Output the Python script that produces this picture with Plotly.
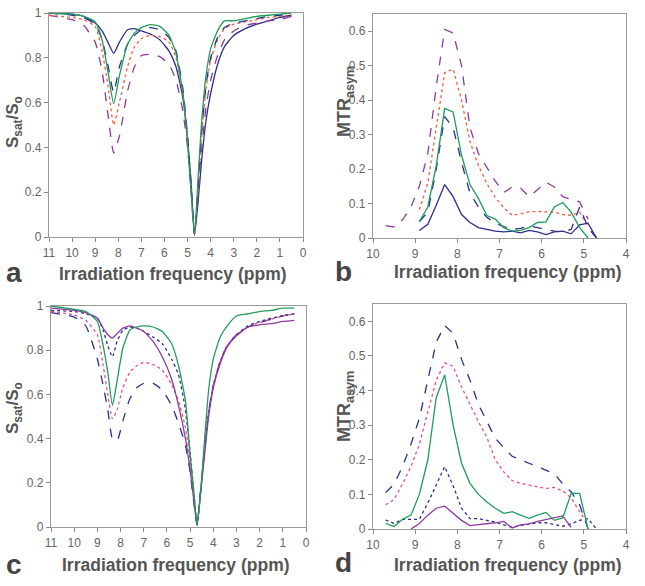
import plotly.graph_objects as go

# ---------- data ----------
# panel a : Z-spectra
ppm_a = [11, 10, 9.5, 9, 8.7, 8.45, 8.2, 7.95, 7.6, 7.3, 7.0, 6.6, 6.2, 5.8, 5.5, 5.2,
         5.0, 4.85, 4.7, 4.55, 4.4, 4.2, 4.0, 3.7, 3.4, 3.0, 2.5, 2.0, 1.5, 1.0, 0.5]
a_navy_solid = [1.0, 0.995, 0.985, 0.955, 0.92, 0.87, 0.82, 0.87, 0.925, 0.93, 0.92, 0.905, 0.88, 0.83, 0.76, 0.62,
                0.44, 0.25, 0.01, 0.15, 0.33, 0.52, 0.64, 0.77, 0.85, 0.9, 0.93, 0.95, 0.965, 0.98, 0.99]
a_green = [1.0, 0.995, 0.985, 0.96, 0.88, 0.74, 0.595, 0.72, 0.86, 0.91, 0.935, 0.948, 0.94, 0.9, 0.82, 0.64,
           0.42, 0.2, 0.01, 0.25, 0.5, 0.72, 0.84, 0.92, 0.965, 0.965, 0.975, 0.985, 0.99, 0.995, 1.0]
a_navy_dash = [1.0, 0.99, 0.98, 0.95, 0.88, 0.77, 0.645, 0.76, 0.86, 0.9, 0.925, 0.935, 0.925, 0.89, 0.83, 0.66,
               0.45, 0.23, 0.01, 0.22, 0.46, 0.68, 0.8, 0.89, 0.935, 0.955, 0.965, 0.975, 0.985, 0.99, 0.995]
a_orange_dot = [0.99, 0.98, 0.97, 0.94, 0.83, 0.68, 0.5, 0.6, 0.76, 0.85, 0.885, 0.9, 0.895, 0.87, 0.8, 0.64,
                0.44, 0.22, 0.01, 0.2, 0.44, 0.66, 0.79, 0.88, 0.93, 0.95, 0.96, 0.97, 0.98, 0.985, 0.99]
a_purple_dash = [0.99, 0.97, 0.945, 0.87, 0.74, 0.55, 0.375, 0.45, 0.65, 0.76, 0.81, 0.815, 0.805, 0.77, 0.7, 0.56,
                 0.4, 0.22, 0.01, 0.18, 0.38, 0.58, 0.7, 0.81, 0.88, 0.92, 0.945, 0.955, 0.965, 0.97, 0.985]

# panel b : MTRasym
ppm_b = [9.7, 9.5, 9.3, 9.1, 8.9, 8.7, 8.5, 8.3, 8.1, 7.9, 7.7, 7.5, 7.3, 7.1, 6.9, 6.7,
         6.5, 6.3, 6.1, 5.9, 5.7, 5.5, 5.3, 5.1, 4.9, 4.7]
b_purple_dash = [0.036, 0.032, 0.053, 0.09, 0.15, 0.245, 0.44, 0.605, 0.595, 0.5, 0.32, 0.245, 0.205, 0.165, 0.132, 0.148,
                 0.145, 0.12, 0.14, 0.162, 0.148, 0.12, 0.112, 0.105, 0.055, None]
b_orange_dot = [None, None, None, None, 0.082, 0.16, 0.32, 0.48, 0.49, 0.4, 0.28, 0.21, 0.158, 0.118, 0.088, 0.066,
                0.07, 0.076, 0.077, 0.077, 0.075, 0.068, 0.066, 0.075, 0.035, None]
b_green = [None, None, None, None, 0.048, 0.09, 0.21, 0.376, 0.366, 0.24, 0.155, 0.115, 0.065, 0.055, 0.03, 0.02,
           0.022, 0.03, 0.045, 0.047, 0.09, 0.103, 0.075, 0.03, 0.0, None]
b_navy_dash = [None, None, None, None, 0.048, 0.075, 0.2, 0.352, 0.32, 0.22, 0.13, 0.09, 0.06, 0.043, 0.033, 0.025,
               0.028, 0.035, 0.03, 0.025, 0.02, 0.018, 0.025, 0.09, 0.03, 0.0]
b_navy_solid = [None, None, None, None, 0.022, 0.04, 0.095, 0.155, 0.12, 0.068, 0.045, 0.03, 0.025, 0.02, 0.018, 0.02,
                0.015, 0.022, 0.018, 0.01, 0.018, 0.02, 0.012, 0.038, 0.043, 0.0]

# panel c : Z-spectra
ppm_c = [11, 10, 9.5, 9, 8.75, 8.55, 8.35, 8.15, 7.9, 7.6, 7.3, 7.0, 6.6, 6.2, 5.8, 5.5, 5.2,
         5.0, 4.85, 4.7, 4.55, 4.4, 4.2, 4.0, 3.7, 3.4, 3.0, 2.5, 2.0, 1.5, 1.0, 0.5]
c_green = [1.0, 0.985, 0.975, 0.93, 0.82, 0.7, 0.55, 0.66, 0.81, 0.89, 0.905, 0.91, 0.905, 0.885, 0.83, 0.73, 0.57,
           0.33, 0.17, 0.01, 0.15, 0.36, 0.62, 0.76, 0.86, 0.91, 0.955, 0.965, 0.975, 0.98, 0.99, 0.99]
c_purple = [0.99, 0.98, 0.97, 0.945, 0.9, 0.87, 0.855, 0.875, 0.9, 0.91, 0.9, 0.885, 0.84, 0.77, 0.67, 0.55, 0.4,
            0.26, 0.13, 0.01, 0.15, 0.3, 0.5, 0.63, 0.74, 0.815, 0.865, 0.905, 0.915, 0.92, 0.93, 0.935]
c_navy_dot = [0.98, 0.975, 0.965, 0.945, 0.89, 0.82, 0.77, 0.84, 0.89, 0.905, 0.9, 0.885, 0.86, 0.83, 0.76, 0.69, 0.53,
              0.34, 0.17, 0.01, 0.16, 0.32, 0.52, 0.64, 0.75, 0.82, 0.87, 0.91, 0.93, 0.945, 0.955, 0.965]
c_pink_dot = [0.975, 0.96, 0.935, 0.87, 0.73, 0.6, 0.49, 0.53, 0.63, 0.7, 0.73, 0.745, 0.735, 0.71, 0.645, 0.57, 0.45,
              0.3, 0.15, 0.01, 0.16, 0.33, 0.52, 0.64, 0.75, 0.82, 0.87, 0.905, 0.925, 0.94, 0.955, 0.965]
c_navy_dash = [0.97, 0.95, 0.91, 0.76, 0.64, 0.53, 0.40, 0.39, 0.48, 0.58, 0.63, 0.65, 0.65, 0.62, 0.55, 0.47, 0.37,
               0.25, 0.12, 0.01, 0.16, 0.33, 0.52, 0.64, 0.75, 0.82, 0.87, 0.905, 0.925, 0.94, 0.955, 0.965]

# panel d : MTRasym
ppm_d = ppm_b
d_navy_dash = [0.105, 0.13, 0.18, 0.245, 0.32, 0.43, 0.54, 0.588, 0.565, 0.49, 0.43, 0.36, 0.31, 0.262, 0.235, 0.21,
               0.2, 0.19, 0.18, 0.17, 0.16, 0.13, 0.107, 0.07, 0.0, None]
d_pink_dot = [0.07, 0.085, 0.13, 0.18, 0.245, 0.34, 0.43, 0.48, 0.47, 0.41, 0.36, 0.31, 0.265, 0.2, 0.165, 0.14,
              0.132, 0.128, 0.122, 0.117, 0.12, 0.11, 0.09, 0.05, 0.015, None]
d_green = [0.016, 0.007, 0.028, 0.04, 0.1, 0.2, 0.38, 0.445, 0.3, 0.19, 0.132, 0.1, 0.078, 0.06, 0.045, 0.05,
           0.04, 0.031, 0.04, 0.048, 0.025, 0.032, 0.103, 0.103, 0.0, None]
d_navy_dot = [0.026, 0.016, 0.028, 0.027, 0.028, 0.075, 0.13, 0.18, 0.125, 0.06, 0.03, 0.03, 0.025, 0.02, 0.012, 0.005,
              0.01, 0.015, 0.018, 0.018, 0.012, 0.008, 0.015, 0.025, 0.03, 0.0]
d_purple = [None, None, None, 0.0, 0.016, 0.04, 0.06, 0.066, 0.045, 0.025, 0.01, 0.012, 0.015, 0.018, 0.022, 0.003,
            0.012, 0.015, 0.022, 0.028, 0.032, 0.038, 0.005, None, None, None]

# ---------- styles ----------
NAVY = '#2e2e8e'
GREEN = '#1f9e5a'
PURPLE = '#8e3a9e'
ORANGE = '#f4603f'
PINK = '#e8508c'
FONT = 'Liberation Sans, Arial, sans-serif'

fig = go.Figure()


def add(x, y, color, dash, ax, shape='linear'):
    fig.add_trace(go.Scatter(
        x=x, y=y, mode='lines', xaxis='x' + ax, yaxis='y' + ax,
        line=dict(color=color, dash=dash, width=1.3, shape=shape, smoothing=0.5),
        showlegend=False, hoverinfo='skip'
    ))


add(ppm_a, a_navy_solid, NAVY, 'solid', '', 'spline')
add(ppm_a, a_purple_dash, PURPLE, 'dash', '', 'spline')
add(ppm_a, a_orange_dot, ORANGE, 'dot', '', 'spline')
add(ppm_a, a_navy_dash, NAVY, 'dash', '', 'spline')
add(ppm_a, a_green, GREEN, 'solid', '', 'spline')

add(ppm_b, b_purple_dash, PURPLE, 'dash', '2')
add(ppm_b, b_orange_dot, ORANGE, 'dot', '2')
add(ppm_b, b_navy_solid, NAVY, 'solid', '2')
add(ppm_b, b_navy_dash, NAVY, 'dash', '2')
add(ppm_b, b_green, GREEN, 'solid', '2')

add(ppm_c, c_navy_dash, NAVY, 'dash', '3', 'spline')
add(ppm_c, c_pink_dot, PINK, 'dot', '3', 'spline')
add(ppm_c, c_navy_dot, NAVY, 'dot', '3', 'spline')
add(ppm_c, c_purple, PURPLE, 'solid', '3', 'spline')
add(ppm_c, c_green, GREEN, 'solid', '3', 'spline')

add(ppm_d, d_navy_dash, NAVY, 'dash', '4')
add(ppm_d, d_pink_dot, PINK, 'dot', '4')
add(ppm_d, d_navy_dot, NAVY, 'dot', '4')
add(ppm_d, d_purple, PURPLE, 'solid', '4')
add(ppm_d, d_green, GREEN, 'solid', '4')

W, H = 645, 586


def px_x(p):
    return p / W


def px_y(p):
    return 1 - p / H


axis_common = dict(
    showline=True, linecolor='#9a9a9a', linewidth=1.2, mirror=True,
    ticks='outside', ticklen=4, tickcolor='#8a8a8a', tickwidth=1,
    showgrid=False, zeroline=False, automargin=False,
    tickfont=dict(family=FONT, size=12, color='#666666'),
)

fig.update_layout(
    template='none',
    width=W, height=H,
    paper_bgcolor='white', plot_bgcolor='white',
    margin=dict(l=0, r=0, t=0, b=0, pad=0),
    xaxis=dict(domain=[px_x(49), px_x(303)], range=[11, 0], dtick=1, anchor='y', **axis_common),
    yaxis=dict(domain=[px_y(237), px_y(13)], range=[0, 1], dtick=0.2, anchor='x', **axis_common),
    xaxis2=dict(domain=[px_x(373), px_x(626)], range=[10, 4], dtick=1, anchor='y2', **axis_common),
    yaxis2=dict(domain=[px_y(238), px_y(14)], range=[0, 0.65], dtick=0.1, anchor='x2', **axis_common),
    xaxis3=dict(domain=[px_x(51), px_x(306)], range=[11, 0], dtick=1, anchor='y3', **axis_common),
    yaxis3=dict(domain=[px_y(527), px_y(306)], range=[0, 1], dtick=0.2, anchor='x3', **axis_common),
    xaxis4=dict(domain=[px_x(373), px_x(626)], range=[10, 4], dtick=1, anchor='y4', **axis_common),
    yaxis4=dict(domain=[px_y(529), px_y(304)], range=[0, 0.65], dtick=0.1, anchor='x4', **axis_common),
)

# titles and panel letters as text annotations (pixel positions)
ann = []
for cx, cy in [(173, 274), (508, 272), (176, 565), (508, 565)]:
    ann.append(dict(x=px_x(cx), y=px_y(cy), text='<b>Irradiation frequency (ppm)</b>',
                    font=dict(family=FONT, size=17.5, color='#555555')))
for cx, cy in [(14, 122), (14, 408)]:
    ann.append(dict(x=px_x(cx), y=px_y(cy), text='<b>S<sub>sat</sub>/S<sub>o</sub></b>', textangle=-90,
                    font=dict(family=FONT, size=17, color='#555555')))
for cx, cy in [(345, 101), (345, 406)]:
    ann.append(dict(x=px_x(cx), y=px_y(cy), text='<b>MTR<sub>asym</sub></b>', textangle=-90,
                    font=dict(family=FONT, size=18, color='#555555')))
for cx, cy, t in [(14, 273, 'a'), (343, 271, 'b'), (14, 564, 'c'), (343, 562, 'd')]:
    ann.append(dict(x=px_x(cx), y=px_y(cy), text='<b>' + t + '</b>',
                    font=dict(family=FONT, size=28, color='#444444')))
for a in ann:
    a.update(xref='paper', yref='paper', showarrow=False, xanchor='center', yanchor='middle')
fig.update_layout(annotations=ann)

# page body has a default 8px margin; drop it so the figure sits at the top-left corner
fig.write_html("out.html", config={'displayModeBar': False},
               post_script="document.body.style.margin='0';")
